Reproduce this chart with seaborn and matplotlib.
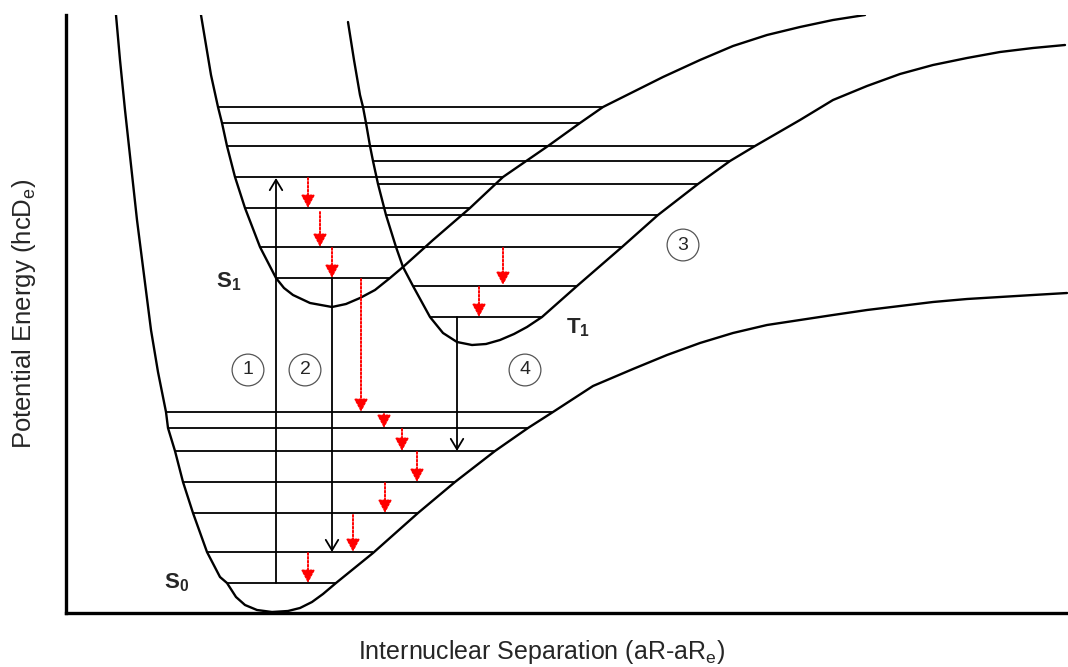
import numpy as np
import matplotlib
matplotlib.use("Agg")
import matplotlib.pyplot as plt
import seaborn as sns

# everything below (pixel units of a 1068x667 image)
X0, Y0 = 66, 613  # left spine / bottom spine

# potential curves
s0_x = [116, 120, 125, 131, 137, 144, 151, 158, 166, 168, 175, 183, 193, 207, 220, 227, 236, 245, 257,
        272, 288, 300, 312, 323, 336, 373, 418, 455, 495, 528, 553, 593, 633, 667, 700, 733, 767,
        800, 833, 867, 900, 933, 967, 1000, 1033, 1067]
s0_y = [15, 60, 110, 165, 220, 275, 330, 372, 412, 428, 451, 482, 513, 552, 577, 583, 597, 605, 610,
        612, 611, 608, 602, 594, 583, 553, 513, 482, 451, 428, 412, 386, 369, 355, 343, 333, 325,
        320, 315, 310, 306, 302, 299, 297, 295, 293]

s1_x = [201, 206, 211, 218, 222, 227, 235, 245, 260, 276, 284, 293, 310, 332, 346, 360, 375, 390,
        403, 433, 470, 503, 548, 580, 603, 663, 700, 733, 767, 800, 833, 865]
s1_y = [15, 45, 75, 107, 123, 146, 177, 208, 247, 278, 288, 295, 303, 307, 304, 298, 290, 278,
        267, 240, 208, 177, 146, 123, 107, 77, 60, 46, 35, 27, 20, 15]

t1_x = [348, 354, 360, 363, 366, 370, 373, 378, 386, 396, 403, 413, 430, 443, 457, 472, 486, 500,
        514, 527, 542, 577, 622, 658, 698, 730, 755, 800, 833, 867, 900, 933, 967, 1000, 1033, 1065]
t1_y = [22, 60, 95, 107, 123, 146, 161, 184, 215, 247, 267, 286, 317, 333, 342, 345, 344, 340,
        334, 327, 317, 286, 247, 215, 184, 161, 146, 120, 100, 86, 74, 65, 58, 52, 48, 45]

# vibrational levels: height, left end, right end
s0_lev = [412, 428, 451, 482, 513, 552, 583]
s0_lft = [166, 168, 175, 183, 193, 207, 227]
s0_rgt = [553, 528, 495, 455, 418, 373, 336]

s1_lev = [107, 123, 146, 177, 208, 247, 278]
s1_lft = [218, 222, 227, 235, 245, 260, 276]
s1_rgt = [603, 580, 548, 503, 470, 428, 390]

t1_lev = [146, 161, 184, 215, 247, 286, 317]
t1_lft = [370, 373, 378, 386, 396, 413, 430]
t1_rgt = [755, 730, 698, 658, 622, 577, 542]

# radiative transitions (black) and non-radiative ones (red dotted)
rad_x = [276, 332, 457]
rad_from = [583, 278, 317]
rad_to = [178, 552, 451]

nr_x = [308, 320, 332, 361, 384, 402, 417, 385, 353, 308, 503, 479]
nr_from = [178, 212, 248, 279, 414, 429, 452, 483, 515, 553, 248, 287]
nr_to = [208, 247, 278, 412, 428, 451, 482, 513, 552, 583, 285, 317]

state_names = [r'$\mathbf{S_0}$', r'$\mathbf{S_1}$', r'$\mathbf{T_1}$']
state_x = [177, 229, 578]
state_y = [583, 282, 328]

step_names = ['1', '2', '3', '4']
step_x = [248, 305, 683, 525]
step_y = [370, 370, 245, 370]


def sx(v):
    return np.asarray(v, dtype=float) - X0


def sy(v):
    return Y0 - np.asarray(v, dtype=float)


sns.set_style('white')
plt.rcParams['font.family'] = ['Liberation Sans', 'DejaVu Sans']
plt.rcParams['mathtext.fontset'] = 'custom'
plt.rcParams['mathtext.rm'] = 'Liberation Sans'
plt.rcParams['mathtext.bf'] = 'Liberation Sans:bold'
plt.rcParams['mathtext.it'] = 'Liberation Sans:italic'

fig = plt.figure(figsize=(10.68, 6.67), dpi=100)
ax = fig.add_axes([X0 / 1068, (667 - Y0) / 667, 1 - X0 / 1068, (Y0 - 15) / 667])

for cx, cy in [(s0_x, s0_y), (s1_x, s1_y), (t1_x, t1_y)]:
    sns.lineplot(x=sx(cx), y=sy(cy), sort=False, estimator=None, color='black', lw=1.7, ax=ax)

for lev, lft, rgt in [(s0_lev, s0_lft, s0_rgt), (s1_lev, s1_lft, s1_rgt), (t1_lev, t1_lft, t1_rgt)]:
    ax.hlines(sy(lev), sx(lft), sx(rgt), color='black', lw=1.3)

for x, a, b in zip(rad_x, rad_from, rad_to):
    ax.annotate('', xy=(sx(x), sy(b)), xytext=(sx(x), sy(a)),
                arrowprops=dict(arrowstyle='->,head_width=0.45,head_length=0.75', color='black',
                                lw=1.3, shrinkA=0, shrinkB=0, mutation_scale=10))

for x, a, b in zip(nr_x, nr_from, nr_to):
    ax.annotate('', xy=(sx(x), sy(b)), xytext=(sx(x), sy(a)),
                arrowprops=dict(arrowstyle='-|>,head_width=0.4,head_length=0.75', color='red',
                                lw=1.4, ls=(0, (1, 1)), shrinkA=0, shrinkB=0, mutation_scale=10))

for name, x, y in zip(state_names, state_x, state_y):
    ax.text(sx(x), sy(y), name, ha='center', va='center', fontsize=16)

for name, x, y in zip(step_names, step_x, step_y):
    ax.text(sx(x), sy(y), name, ha='center', va='center', fontsize=14,
            bbox=dict(boxstyle='circle,pad=0.38', fc='none', ec='#555555', lw=0.9))

ax.set_xlim(0, 1068 - X0)
ax.set_ylim(0, Y0 - 15)
ax.set_xticks([])
ax.set_yticks([])
sns.despine(ax=ax)
for side in ['left', 'bottom']:
    ax.spines[side].set_linewidth(2.4)
    ax.spines[side].set_color('black')

ax.set_xlabel(r'Internuclear Separation (aR-aR$_\mathrm{e}$)', fontsize=18)
ax.set_ylabel(r'Potential Energy (hcD$_\mathrm{e}$)', fontsize=18.5)
ax.xaxis.set_label_coords((541 - X0) / (1068 - X0), -0.042)
ax.yaxis.set_label_coords((38 - X0) / (1068 - X0), 0.5)

fig.savefig('out.png', dpi=100)
